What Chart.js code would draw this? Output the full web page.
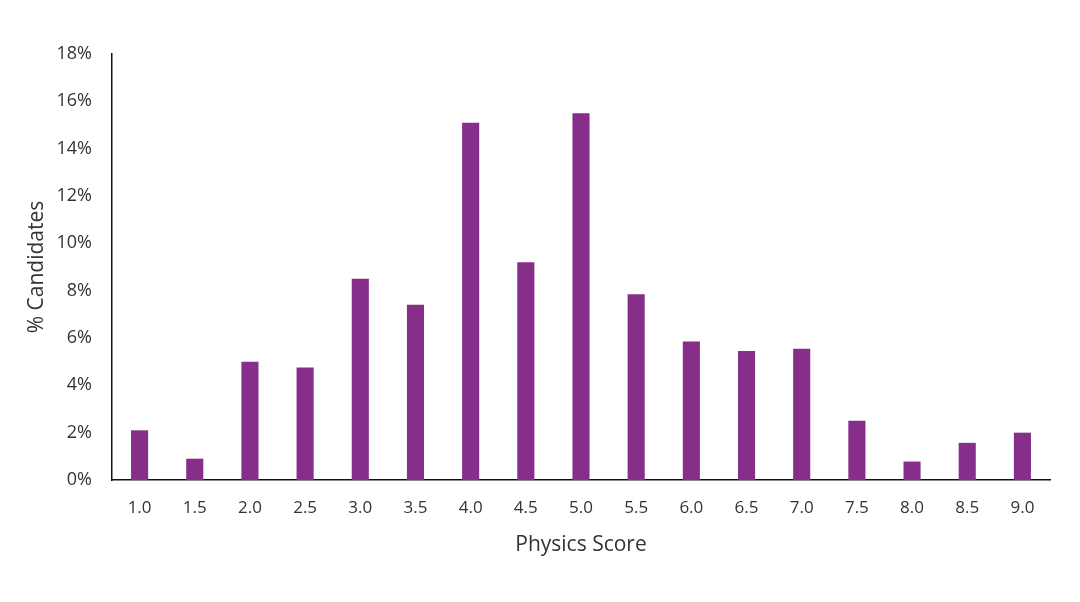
<!DOCTYPE html>
<html><head><meta charset="utf-8">
<script src="https://cdn.jsdelivr.net/npm/chart.js@4"></script>
<style>html,body{margin:0;padding:0;background:#fff}#wrap{width:1080px;height:602px}</style>
</head><body><div id="wrap"><canvas id="c" width="1080" height="602"></canvas></div>
<script>
const categories = ["1.0","1.5","2.0","2.5","3.0","3.5","4.0","4.5","5.0","5.5","6.0","6.5","7.0","7.5","8.0","8.5","9.0"];
const percentCandidates = [2.1,0.9,5.0,4.75,8.5,7.4,15.1,9.2,15.5,7.85,5.85,5.45,5.55,2.5,0.78,1.57,2.0];
const yTicks = [0,2,4,6,8,10,12,14,16,18];
const xTitle = "Physics Score";
const yTitle = "% Candidates";

const font = "'Open Sans', 'Liberation Sans', sans-serif";
new Chart(document.getElementById('c'), {
  type: 'bar',
  data: { labels: categories, datasets: [{ data: percentCandidates, backgroundColor: '#872E8B', barPercentage: 0.31, categoryPercentage: 1.0 }] },
  options: {
    responsive: false, animation: false, devicePixelRatio: 1,
    layout: { padding: { left: 20, right: 30, top: 54, bottom: 40 } },
    plugins: { legend: { display: false }, tooltip: { enabled: false } },
    scales: {
      x: {
        grid: { display: false, drawTicks: false },
        border: { color: '#111', width: 1.5 },
        ticks: { color: '#333', font: { family: font, size: 17 }, padding: 18, maxRotation: 0 },
        title: { display: true, text: xTitle, color: '#333', font: { family: font, size: 21 }, padding: { top: 6 } },
        afterFit: s => { s.height = 82; }
      },
      y: {
        min: 0, max: 18,
        grid: { display: false, drawTicks: false },
        border: { color: '#111', width: 1.5 },
        afterBuildTicks: s => { s.ticks = yTicks.map(v => ({ value: v })); },
        ticks: { color: '#333', font: { family: font, size: 18 }, padding: 20, callback: v => v + '%' },
        title: { display: true, text: yTitle, color: '#333', font: { family: font, size: 21 }, padding: { bottom: 4 } },
        afterFit: s => { s.width = 92; }
      }
    }
  }
});
</script></body></html>
